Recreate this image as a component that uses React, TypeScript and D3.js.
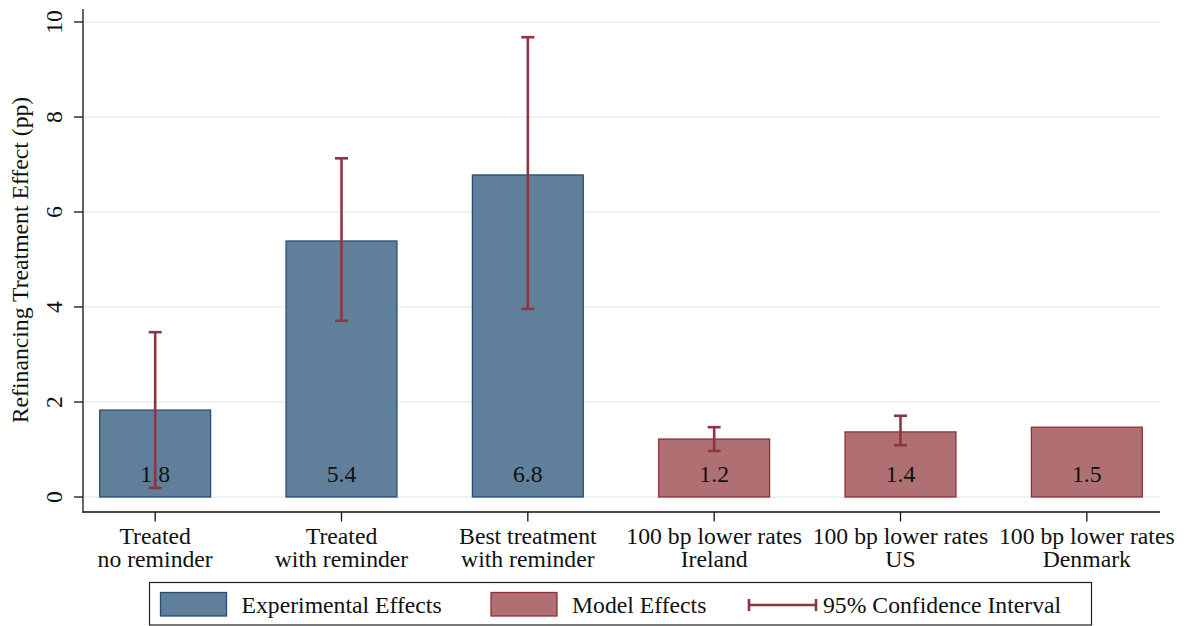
import React, { useEffect, useRef } from 'react';
import * as d3 from 'd3';

// Chart data
const categories = [
  ['Treated', 'no reminder'],
  ['Treated', 'with reminder'],
  ['Best treatment', 'with reminder'],
  ['100 bp lower rates', 'Ireland'],
  ['100 bp lower rates', 'US'],
  ['100 bp lower rates', 'Denmark'],
];
const effects = [1.83, 5.39, 6.78, 1.22, 1.37, 1.47];
const effectLabels = ['1.8', '5.4', '6.8', '1.2', '1.4', '1.5'];
const groups = ['exp', 'exp', 'exp', 'model', 'model', 'model'];
const ciLow = [0.19, 3.71, 3.96, 0.97, 1.09, null];
const ciHigh = [3.47, 7.13, 9.68, 1.47, 1.71, null];
const yTicks = [0, 2, 4, 6, 8, 10];

const colors = {
  exp: { fill: '#5f7f9a', stroke: '#264e76' },
  model: { fill: '#b07073', stroke: '#8f2f3a' },
  ci: '#8d3540',
};

const App = () => {
  const ref = useRef<SVGSVGElement>(null);

  useEffect(() => {
    const width = 1186;
    const height = 626;
    const fs = 23.7;
    const font = '"Liberation Serif", "Times New Roman", serif';
    const svg = d3.select(ref.current);
    svg.selectAll('*').remove();
    svg.attr('width', width).attr('height', height).style('font-family', font);

    const margin = { left: 83, right: 1160, top: 22, bottom: 497 };

    const x = d3.scaleBand<number>()
      .domain(categories.map((_, i) => i))
      .range([62, 1180])
      .paddingInner(0.405)
      .paddingOuter(0.2025);

    const y = d3.scaleLinear().domain([0, 10]).range([margin.bottom, margin.top]);

    // gridlines
    svg.append('g')
      .selectAll('line')
      .data(yTicks)
      .enter()
      .append('line')
      .attr('x1', margin.left + 1)
      .attr('x2', margin.right)
      .attr('y1', d => y(d))
      .attr('y2', d => y(d))
      .attr('stroke', '#e8eef2')
      .attr('stroke-width', 1.5);

    // bars
    svg.append('g')
      .selectAll('rect')
      .data(effects)
      .enter()
      .append('rect')
      .attr('x', (_, i) => x(i)!)
      .attr('y', d => y(d))
      .attr('width', x.bandwidth())
      .attr('height', d => y(0) - y(d))
      .attr('fill', (_, i) => colors[groups[i]].fill)
      .attr('stroke', (_, i) => colors[groups[i]].stroke)
      .attr('stroke-width', 1.3);

    // value labels
    svg.append('g')
      .selectAll('text')
      .data(effectLabels)
      .enter()
      .append('text')
      .attr('x', (_, i) => x(i)! + x.bandwidth() / 2)
      .attr('y', 482)
      .attr('text-anchor', 'middle')
      .attr('font-size', fs)
      .attr('fill', '#111')
      .text(d => d);

    // confidence intervals
    const ci = svg.append('g');
    categories.forEach((_, i) => {
      if (ciLow[i] == null || ciHigh[i] == null) return;
      const cx = x(i)! + x.bandwidth() / 2;
      ci.append('line')
        .attr('x1', cx).attr('x2', cx)
        .attr('y1', y(ciLow[i]!)).attr('y2', y(ciHigh[i]!))
        .attr('stroke', colors.ci).attr('stroke-width', 2.6);
      [ciLow[i]!, ciHigh[i]!].forEach(v => {
        ci.append('line')
          .attr('x1', cx - 6.5).attr('x2', cx + 6.5)
          .attr('y1', y(v)).attr('y2', y(v))
          .attr('stroke', colors.ci).attr('stroke-width', 2.6);
      });
    });

    // y axis
    const yAxis = svg.append('g').attr('transform', `translate(${margin.left},0)`);
    yAxis.append('line')
      .attr('x1', 0).attr('x2', 0)
      .attr('y1', 9).attr('y2', 513)
      .attr('stroke', '#111').attr('stroke-width', 1.3);
    yTicks.forEach(t => {
      yAxis.append('line')
        .attr('x1', -9).attr('x2', 0)
        .attr('y1', y(t)).attr('y2', y(t))
        .attr('stroke', '#111').attr('stroke-width', 1.3);
      yAxis.append('text')
        .attr('transform', `translate(-21,${y(t)}) rotate(-90)`)
        .attr('text-anchor', 'middle')
        .attr('font-size', fs)
        .attr('fill', '#111')
        .text(t);
    });
    svg.append('text')
      .attr('transform', `translate(28,260) rotate(-90)`)
      .attr('text-anchor', 'middle')
      .attr('font-size', fs)
      .attr('fill', '#111')
      .text('Refinancing Treatment Effect (pp)');

    // x axis
    const xAxis = svg.append('g');
    xAxis.append('line')
      .attr('x1', margin.left).attr('x2', margin.right)
      .attr('y1', 512).attr('y2', 512)
      .attr('stroke', '#111').attr('stroke-width', 1.3);
    categories.forEach((lines, i) => {
      const cx = x(i)! + x.bandwidth() / 2;
      xAxis.append('line')
        .attr('x1', cx).attr('x2', cx)
        .attr('y1', 512).attr('y2', 521.5)
        .attr('stroke', '#111').attr('stroke-width', 1.3);
      lines.forEach((l, j) => {
        xAxis.append('text')
          .attr('x', cx)
          .attr('y', 543.5 + j * 23.3)
          .attr('text-anchor', 'middle')
          .attr('font-size', fs)
          .attr('fill', '#111')
          .text(l);
      });
    });

    // legend
    const legend = svg.append('g');
    legend.append('rect')
      .attr('x', 149.5).attr('y', 582.5)
      .attr('width', 942).attr('height', 42.5)
      .attr('fill', 'white').attr('stroke', '#222').attr('stroke-width', 1.2);
    const items = [
      { kind: 'exp', label: 'Experimental Effects', x: 160.5 },
      { kind: 'model', label: 'Model Effects', x: 491 },
    ];
    items.forEach(it => {
      legend.append('rect')
        .attr('x', it.x).attr('y', 592.5)
        .attr('width', 66).attr('height', 23.5)
        .attr('fill', colors[it.kind].fill)
        .attr('stroke', colors[it.kind].stroke)
        .attr('stroke-width', 1.3);
      legend.append('text')
        .attr('x', it.x + 81).attr('y', 613)
        .attr('font-size', fs).attr('fill', '#111')
        .text(it.label);
    });
    legend.append('line')
      .attr('x1', 749).attr('x2', 816).attr('y1', 605).attr('y2', 605)
      .attr('stroke', colors.ci).attr('stroke-width', 2.6);
    [749, 816].forEach(px => {
      legend.append('line')
        .attr('x1', px).attr('x2', px).attr('y1', 599).attr('y2', 611)
        .attr('stroke', colors.ci).attr('stroke-width', 2.6);
    });
    legend.append('text')
      .attr('x', 823).attr('y', 613)
      .attr('font-size', fs).attr('fill', '#111')
      .text('95% Confidence Interval');
  }, []);

  return (
    <svg
      ref={ref}
      style={{ position: 'absolute', left: 0, top: 0, background: 'white' }}
    />
  );
};

export default App;
